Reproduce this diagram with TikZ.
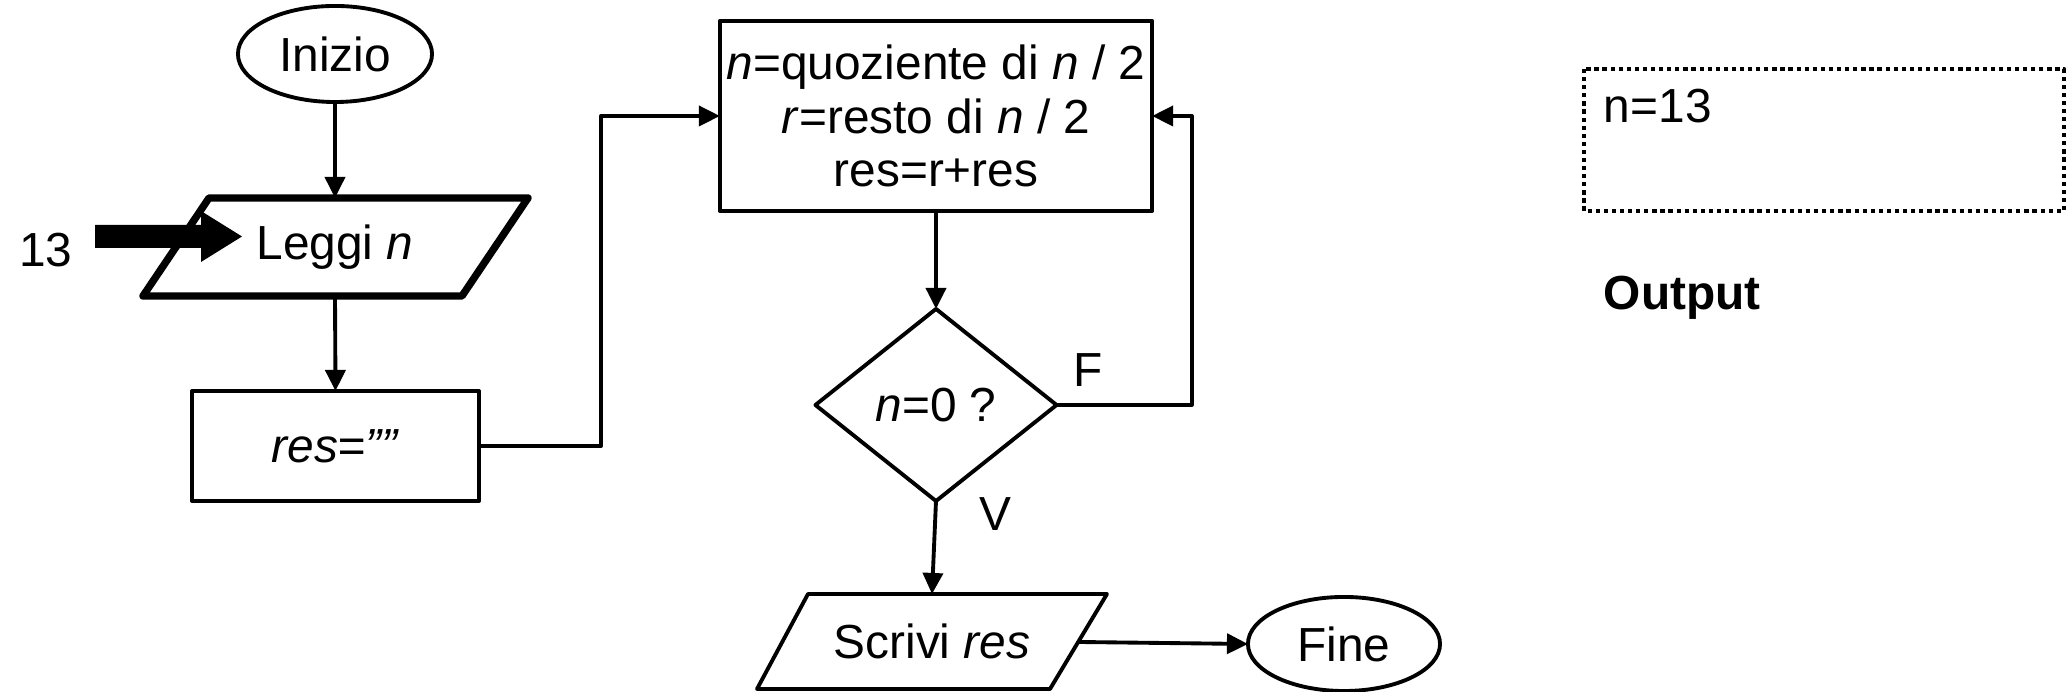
\documentclass[tikz,border=0pt]{standalone}
\usepackage{fontspec}
\setmainfont{Liberation Sans}
\usetikzlibrary{shapes.geometric,arrows.meta,calc}
\begin{document}
\fontsize{13.6pt}{15.3pt}\selectfont
\begin{tikzpicture}[x=0.01cm,y=-0.01cm,
  line width=1.1pt, line join=round,
  arr/.style={-{Triangle[length=0.21cm,width=0.2cm]}},
  txt/.style={inner sep=0pt, outer sep=0pt, align=center},
  terminal/.style={ellipse, draw, inner sep=0pt, outer sep=0pt},
  procbox/.style={rectangle, draw, inner sep=0pt, outer sep=0pt, align=center},
  decision/.style={diamond, draw, inner sep=0pt, outer sep=0pt},
  iobox/.style={txt},
  lbl/.style={inner sep=0pt}]
\useasboundingbox (0,0) rectangle (2071,692);

% start / end
\node[terminal, minimum width=1.94cm, minimum height=0.96cm] (inizio) at (335,54) {Inizio};
\node[terminal, minimum width=1.92cm, minimum height=0.94cm] (fine) at (1344,644) {Fine};

% input block
\node[iobox, minimum width=2.5cm, minimum height=0.98cm] (leggi) at (335,247) {Leggi \textit{n}};
\draw[line width=2.1pt] (209,198) -- (528,198) -- (462,296) -- (143,296) -- cycle;

% external input value
\node[lbl] (val) at (46,250) {13};
\fill (95,225) -- (201,225) -- (201,211) -- (242,236.5) -- (201,262) -- (201,248) -- (95,248) -- cycle;

% initialisation
\node[procbox, minimum width=2.87cm, minimum height=1.10cm] (res) at (335.5,446) {\textit{res=””}};

% loop body
\node[procbox, minimum width=4.32cm, minimum height=1.90cm] (proc) at (936,116)
  {\textit{n}=quoziente di \textit{n} / 2\\ \textit{r}=resto di \textit{n} / 2\\ res=r+res};

% test
\node[decision, minimum width=2.41cm, minimum height=1.92cm] (dec) at (936,405) {\textit{n}=0 ?};

% output block
\node[iobox, minimum width=2.2cm, minimum height=0.95cm] (scrivi) at (932,641.5) {Scrivi \textit{res}};
\draw (808,594) -- (1107,594) -- (1050,689) -- (757,689) -- cycle;
\coordinate (scrivir) at (1079,642);

% connectors
\draw[arr] (inizio.south) -- (leggi.north);
\draw[arr] (leggi.south) -- (res.north);
\draw[arr] (res.east) -- ++(122,0) |- (proc.west);
\draw[arr] (proc.south) -- (dec.north);
\draw[arr] (dec.east) -- ++(135,0) |- (proc.east);
\draw[arr] (dec.south) -- (scrivi.north);
\draw[arr] (scrivir) -- (fine.west);

\node[lbl] (f) at (1088,370) {F};
\node[lbl] (v) at (995,514) {V};

% output panel
\draw[line width=1.2pt, dash pattern=on 1.2pt off 1.1pt] (1584,69) rectangle (2064,211);
\node[lbl, anchor=west] (nval) at (1602,106) {n=13};
\node[lbl, anchor=west] (out) at (1602,298) {\textbf{Output}};
\end{tikzpicture}
\end{document}
